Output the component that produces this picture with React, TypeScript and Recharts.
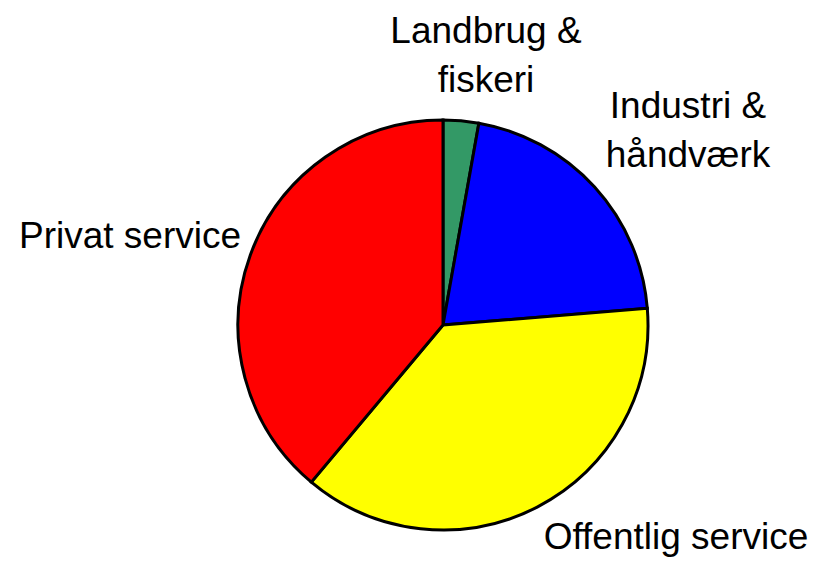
import { PieChart, Pie, Cell } from 'recharts';

const sectors = ['Landbrug & fiskeri', 'Industri & håndværk', 'Offentlig service', 'Privat service'];
const labelLines = [['Landbrug &', 'fiskeri'], ['Industri &', 'håndværk'], ['Offentlig service'], ['Privat service']];
const shares = [2.8, 20.9, 37.4, 38.9];
const colors = ['#339966', '#0000FF', '#FFFF00', '#FF0000'];

const rows = sectors.map((name, i) => ({ name, value: shares[i] }));

// label placement relative to the pie centre: [dx, first baseline dy]
const labelPos: [number, number][] = [
  [43, -282],
  [245, -207],
  [233, 224],
  [-313, -77],
];

const renderLabel = (p: any) => {
  const [dx, dy] = labelPos[p.index];
  const lines = labelLines[p.index];
  return (
    <text x={p.cx + dx} y={p.cy + dy} textAnchor="middle" fill="#000"
      style={{ fontFamily: '"Liberation Sans", Arial, sans-serif', fontSize: 37 }}>
      {lines.map((l, i) => (
        <tspan key={i} x={p.cx + dx} dy={i === 0 ? 0 : 49}>{l}</tspan>
      ))}
    </text>
  );
};

export default function App() {
  return (
    <div style={{ position: 'absolute', left: 0, top: 0, width: 816, height: 561, background: '#fff' }}>
      <PieChart width={816} height={561} margin={{ top: 0, right: 0, bottom: 0, left: 0 }}>
        <Pie data={rows} dataKey="value" nameKey="name" cx={443} cy={325} outerRadius={205}
          startAngle={90} endAngle={-270} stroke="#000" strokeWidth={3}
          label={renderLabel} labelLine={false} isAnimationActive={false}>
          {rows.map((r, i) => <Cell key={r.name} fill={colors[i]} stroke="#000" strokeWidth={3} />)}
        </Pie>
      </PieChart>
    </div>
  );
}
